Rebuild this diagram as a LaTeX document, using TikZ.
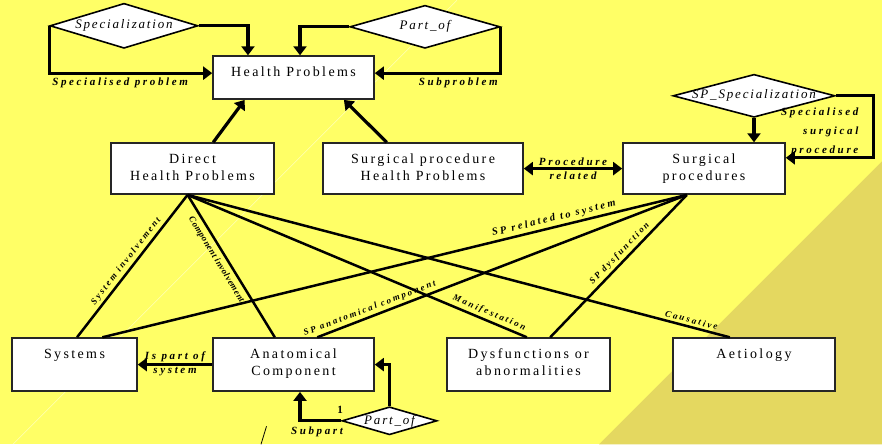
\documentclass[tikz,border=0pt]{standalone}
\usepackage{fontspec}
\setmainfont{Liberation Serif}
\newfontfamily\boxfont[LetterSpace=17]{Liberation Serif}
\newfontfamily\diafont[LetterSpace=14]{Liberation Serif}
\newfontfamily\lblfont[LetterSpace=24]{Liberation Serif}
\newfontfamily\tightlblfont[LetterSpace=5]{Liberation Serif}
\usetikzlibrary{shapes.geometric,arrows.meta,calc}
\definecolor{slideyellow}{RGB}{255,255,102}
\definecolor{slidegold}{RGB}{228,216,96}

\begin{document}
\begin{tikzpicture}[x=1pt,y=-1pt,
  entity/.style={draw=black!85, line width=1.6pt, fill=white, inner sep=0pt,
    anchor=north, align=center, text height=20pt,
    font=\boxfont\fontsize{14}{17}\selectfont},
  twoline/.style={text height=37pt},
  relship/.style={diamond, draw=black, line width=1.6pt, fill=white, inner sep=0pt,
    font=\diafont\itshape\fontsize{13}{15}\selectfont},
  link/.style={line width=3.2pt, draw=black},
  assoc/.style={line width=2.5pt, draw=black},
  tip/.style={-{Triangle[length=9pt,width=13pt]}},
  rolelbl/.style={font=\lblfont\bfseries\itshape\fontsize{11}{13}\selectfont, inner sep=1.5pt},
  slopelbl/.style={font=\lblfont\bfseries\itshape\fontsize{9}{11}\selectfont, sloped, inner sep=2.5pt},
]
% slide background
\fill[slideyellow] (0,0) rectangle (882,444);
\fill[slidegold] (599,444) -- (882,161) -- (882,444) -- cycle;
\draw[white, opacity=0.55, line width=0.6pt] (457,0) -- (13,444);
\useasboundingbox (0,0) rectangle (882,444);

% entities
\node[entity, minimum width=161pt, text depth=23pt] (hp) at (293.5,55) {Health Problems};
\node[entity, twoline, minimum width=163pt, text depth=14pt] (dhp) at (192.5,142) {Direct\\Health Problems};
\node[entity, twoline, minimum width=200pt, text depth=14pt] (sphp) at (423,142) {Surgical procedure\\Health Problems};
\node[entity, twoline, minimum width=162pt, text depth=14pt] (sp) at (704,142) {Surgical\\procedures};
\node[entity, minimum width=125pt, text depth=33pt] (sys) at (74.5,337) {Systems};
\node[entity, twoline, minimum width=161pt, text depth=16pt] (anat) at (293.5,337) {Anatomical\\Component};
\node[entity, twoline, minimum width=163pt, text depth=16pt] (dys) at (528.5,337) {Dysfunctions or\\abnormalities};
\node[entity, minimum width=162pt, text depth=33pt] (aet) at (754,337) {Aetiology};

% relationships
\node[relship, minimum width=148pt, minimum height=45pt] (spec) at (124,25.5) {\makebox[0pt]{Specialization}};
\node[relship, minimum width=150pt, minimum height=43pt] (parta) at (425,26.5) {\makebox[0pt]{Part\_of}};
\node[relship, minimum width=162pt, minimum height=43pt] (spspec) at (754,95.5) {\makebox[0pt]{SP\_Specialization}};
\node[relship, minimum width=95pt, minimum height=28pt] (partb) at (389.5,420.5) {\makebox[0pt]{Part\_of}};

% attachment points on the boxes
\coordinate (hpL) at ($(hp.north west)!0.4!(hp.south west)$);
\coordinate (hpR) at ($(hp.north east)!0.4!(hp.south east)$);
\coordinate (hpT1) at ($(hp.north west)!0.22!(hp.north east)$);
\coordinate (hpT2) at ($(hp.north west)!0.54!(hp.north east)$);
\coordinate (hpB1) at ($(hp.south west)!0.2!(hp.south east)$);
\coordinate (hpB2) at ($(hp.south west)!0.81!(hp.south east)$);
\coordinate (dhpT) at ($(dhp.north west)!0.626!(dhp.north east)$);
\coordinate (sphpT) at ($(sphp.north west)!0.32!(sphp.north east)$);
\coordinate (dhub) at ($(dhp.south west)!0.47!(dhp.south east)$);
\coordinate (shub) at ($(sp.south west)!0.395!(sp.south east)$);
\coordinate (spR) at ($(sp.north east)!0.294!(sp.south east)$);
\coordinate (sysT1) at ($(sys.north west)!0.52!(sys.north east)$);
\coordinate (sysT2) at ($(sys.north west)!0.72!(sys.north east)$);
\coordinate (anatT1) at ($(anat.north west)!0.385!(anat.north east)$);
\coordinate (anatT2) at ($(anat.north west)!0.646!(anat.north east)$);
\coordinate (anatB) at ($(anat.south west)!0.54!(anat.south east)$);
\coordinate (dysT1) at ($(dys.north west)!0.49!(dys.north east)$);
\coordinate (dysT2) at ($(dys.north west)!0.632!(dys.north east)$);
\coordinate (aetT) at ($(aet.north west)!0.352!(aet.north east)$);

% recursive relationships on Health Problems
\draw[link, tip] (spec.west) |- node[rolelbl, pos=0.5, anchor=north west, yshift=-1.5pt] {Specialised problem} (hpL);
\draw[link, tip] (spec.east) -| (hpT1);
\draw[link, tip] (parta.west) -| (hpT2);
\draw[link, tip] (parta.east) |- node[rolelbl, pos=0.5, anchor=north east, yshift=-1.5pt] {Subproblem} (hpR);

% generalisation
\draw[link, tip] (dhpT) -- (hpB1);
\draw[link, tip] (sphpT) -- (hpB2);

% procedure related
\draw[link, {Triangle[length=9pt,width=13pt]}-{Triangle[length=9pt,width=13pt]}] (sphp.east) --
  node[rolelbl, above] {Procedure} node[rolelbl, below] {related} (sp.west);

% specialised surgical procedure
\draw[link, tip] (spspec.south) -- (spspec.south |- sp.north);
\draw[link, tip] (spspec.east) -- ++(38,0) |- (spR);
\node[rolelbl, align=right, anchor=east, font=\lblfont\bfseries\itshape\fontsize{11}{19}\selectfont] (spslbl) at (860,132) {Specialised\\surgical\\procedure};

% associations from Direct Health Problems
\draw[assoc] (dhub) -- node[slopelbl, pos=0.5, above] {System involvement} (sysT1);
\draw[assoc] (dhub) -- node[slopelbl, pos=0.42, below, inner sep=4pt, font=\tightlblfont\bfseries\itshape\fontsize{9}{11}\selectfont] {Component involvement} (anatT1);
\draw[assoc] (dhub) -- node[slopelbl, pos=0.88, above] {Manifestation} (dysT1);
\draw[assoc] (dhub) -- node[slopelbl, pos=0.926, above] {Causative} (aetT);

% associations from Surgical procedures
\draw[assoc] (shub) -- node[slopelbl, pos=0.224, above, font=\lblfont\bfseries\itshape\fontsize{10.5}{12}\selectfont] {SP related to system} (sysT2);
\draw[assoc] (shub) -- node[slopelbl, pos=0.85, above] {SP anatomical component} (anatT2);
\draw[assoc] (shub) -- node[slopelbl, pos=0.45, above] {SP dysfunction} (dysT2);

% anatomical component relations
\draw[link, tip] (anat.west) -- node[rolelbl, above] {Is part of} node[rolelbl, below] {system} (sys.east);
\draw[link, tip] (partb.west) -| (anatB);
\draw[link, tip] (partb.north) |- (anat.east);
\node[rolelbl] (subpartlbl) at (317,432) {Subpart};
\node[rolelbl, font=\bfseries\fontsize{11}{13}\selectfont] (cardlbl) at (340,410) {1};

% small stroke below the diagram
\draw[line width=0.8pt] (266.5,426) -- (261,444);
\end{tikzpicture}
\end{document}
